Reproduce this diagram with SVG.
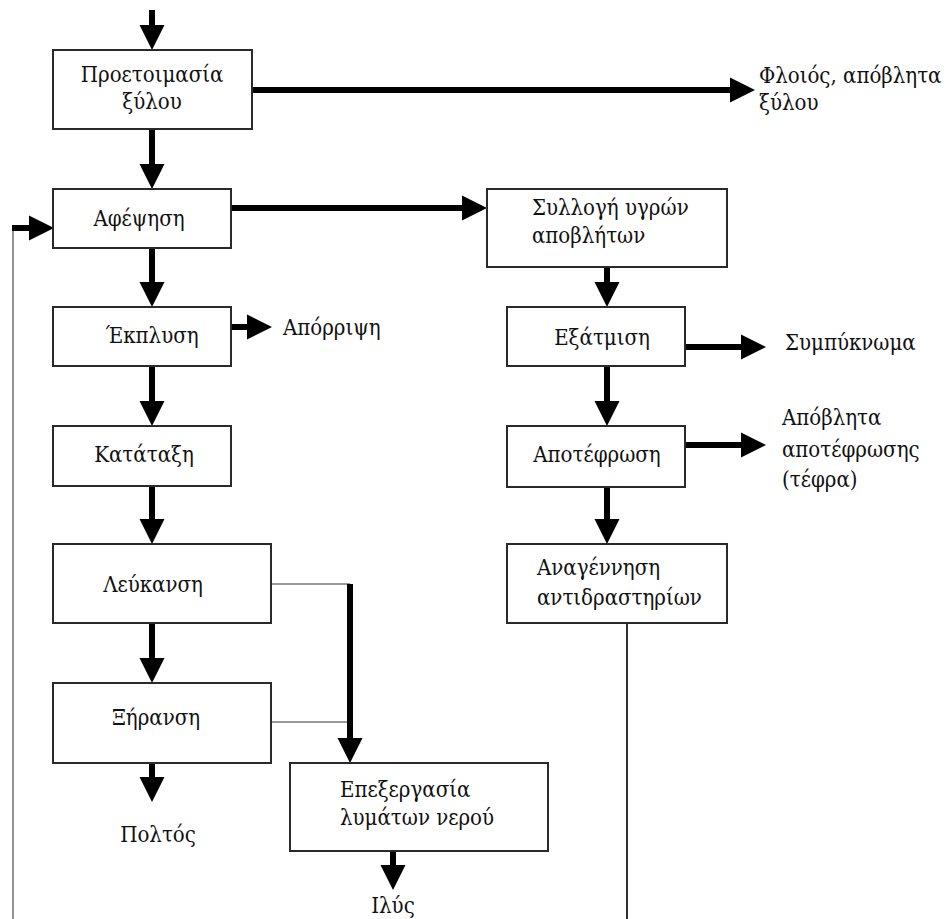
<svg xmlns="http://www.w3.org/2000/svg" width="951" height="919" viewBox="0 0 951 919">
<style>
  .box { fill: #fff; stroke: #2a2a2a; stroke-width: 2; }
  .t { font-family: "DejaVu Serif Condensed", "DejaVu Serif", serif; font-size: 22px; fill: #111; }
  .c { text-anchor: middle; }
  .thick { stroke: #000; stroke-width: 6; fill: none; }
  .thin { stroke: #777; stroke-width: 1.6; fill: none; }
  .dark { stroke: #333; stroke-width: 2; fill: none; }
</style>
<defs>
  <marker id="ah" markerUnits="userSpaceOnUse" markerWidth="26" markerHeight="26" refX="0" refY="12.5" orient="auto" viewBox="0 0 26 26" overflow="visible">
    <path d="M0,0 L25,12.5 L0,25 z" fill="#000"/>
  </marker>
</defs>
<rect width="951" height="919" fill="#fff"/>

<g id="connectors">
  <line class="thick" x1="152" y1="10" x2="152" y2="25" marker-end="url(#ah)"/>
  <line class="thick" x1="152" y1="129" x2="152" y2="164" marker-end="url(#ah)"/>
  <line class="thick" x1="252" y1="90" x2="730" y2="90" marker-end="url(#ah)"/>
  <line class="thick" x1="231" y1="208" x2="462" y2="208" marker-end="url(#ah)"/>
  <line class="thin" x1="13" y1="919" x2="13" y2="228"/>
  <line class="thick" x1="12" y1="228" x2="29" y2="228" marker-end="url(#ah)"/>
  <line class="thick" x1="152" y1="248" x2="152" y2="282" marker-end="url(#ah)"/>
  <line class="thick" x1="231" y1="327" x2="247" y2="327" marker-end="url(#ah)"/>
  <line class="thick" x1="152" y1="366" x2="152" y2="401" marker-end="url(#ah)"/>
  <line class="thick" x1="152" y1="486" x2="152" y2="519" marker-end="url(#ah)"/>
  <line class="thick" x1="152" y1="623" x2="152" y2="658" marker-end="url(#ah)"/>
  <line class="thick" x1="152" y1="763" x2="152" y2="777" marker-end="url(#ah)"/>
  <line class="thin" x1="271" y1="584" x2="350" y2="584"/>
  <line class="thin" x1="271" y1="722" x2="350" y2="722"/>
  <line class="thick" x1="350" y1="584" x2="350" y2="738" marker-end="url(#ah)"/>
  <line class="thick" x1="393" y1="851" x2="393" y2="865" marker-end="url(#ah)"/>
  <line class="thick" x1="607" y1="267" x2="607" y2="282" marker-end="url(#ah)"/>
  <line class="thick" x1="685" y1="347" x2="741" y2="347" marker-end="url(#ah)"/>
  <line class="thick" x1="607" y1="366" x2="607" y2="401" marker-end="url(#ah)"/>
  <line class="thick" x1="685" y1="445" x2="741" y2="445" marker-end="url(#ah)"/>
  <line class="thick" x1="607" y1="487" x2="607" y2="519" marker-end="url(#ah)"/>
  <line class="dark" x1="627" y1="623" x2="627" y2="919"/>
</g>

<g id="proetoimasia">
  <rect class="box" x="53" y="50" width="199" height="79"/>
  <text class="t c" x="152" y="82">Προετοιμασία</text>
  <text class="t c" x="152" y="109">ξύλου</text>
</g>
<g id="afepsisi">
  <rect class="box" x="53" y="189" width="178" height="59"/>
  <text class="t c" x="139" y="226">Αφέψηση</text>
</g>
<g id="ekplysi">
  <rect class="box" x="53" y="307" width="178" height="59"/>
  <text class="t c" x="152" y="343">Έκπλυση</text>
</g>
<g id="katataxi">
  <rect class="box" x="53" y="426" width="178" height="60"/>
  <text class="t c" x="144" y="462">Κατάταξη</text>
</g>
<g id="leukansi">
  <rect class="box" x="53" y="544" width="218" height="79"/>
  <text class="t c" x="153" y="592">Λεύκανση</text>
</g>
<g id="xiransi">
  <rect class="box" x="53" y="683" width="218" height="80"/>
  <text class="t c" x="156" y="725">Ξήρανση</text>
</g>
<g id="epexergasia">
  <rect class="box" x="290" y="763" width="258" height="88"/>
  <text class="t" x="340" y="797">Επεξεργασία</text>
  <text class="t" x="340" y="825">λυμάτων νερού</text>
</g>
<g id="syllogi">
  <rect class="box" x="487" y="189" width="240" height="78"/>
  <text class="t" x="532" y="215">Συλλογή υγρών</text>
  <text class="t" x="532" y="243">αποβλήτων</text>
</g>
<g id="exatmisi">
  <rect class="box" x="507" y="307" width="178" height="59"/>
  <text class="t c" x="602" y="345">Εξάτμιση</text>
</g>
<g id="apotefrosi">
  <rect class="box" x="507" y="426" width="178" height="61"/>
  <text class="t c" x="597" y="462">Αποτέφρωση</text>
</g>
<g id="anagennisi">
  <rect class="box" x="507" y="544" width="220" height="79"/>
  <text class="t" x="537" y="575">Αναγέννηση</text>
  <text class="t" x="537" y="605">αντιδραστηρίων</text>
</g>

<g id="labels">
  <text class="t" x="759" y="83" font-size="21">Φλοιός, απόβλητα</text>
  <text class="t" x="759" y="110" font-size="21">ξύλου</text>
  <text class="t" x="283" y="335">Απόρριψη</text>
  <text class="t" x="785" y="350">Συμπύκνωμα</text>
  <text class="t" x="782" y="425">Απόβλητα</text>
  <text class="t" x="782" y="457">αποτέφρωσης</text>
  <text class="t" x="782" y="487">(τέφρα)</text>
  <text class="t c" x="158" y="842">Πολτός</text>
  <text class="t c" x="393" y="913">Ιλύς</text>
</g>
</svg>
